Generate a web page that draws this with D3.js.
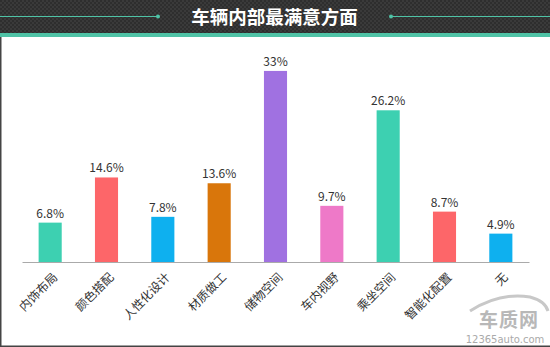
<!DOCTYPE html>
<html><head><meta charset="utf-8">
<script src="https://cdn.jsdelivr.net/npm/d3@7/dist/d3.min.js"></script>
<style>html,body{margin:0;padding:0;background:#fff;}svg{display:block;}</style>
</head><body>
<svg id="c" width="550" height="347"></svg>
<script>
const categories = ["内饰布局","颜色搭配","人性化设计","材质做工","储物空间","车内视野","乘坐空间","智能化配置","无"];
const values = [6.8,14.6,7.8,13.6,33,9.7,26.2,8.7,4.9];
const valueLabels = ["6.8%","14.6%","7.8%","13.6%","33%","9.7%","26.2%","8.7%","4.9%"];
const colors = ["#3dd0b1","#fd6669","#0eb0ef","#d9760b","#a071e1","#ee79c8","#3dd0b1","#fd6669","#0eb0ef"];
const title = "车辆内部最满意方面";

const svg = d3.select("#c");
const W = 550, H = 347;
const font = "'Noto Sans CJK SC','Microsoft YaHei',sans-serif";

// header pattern
const defs = svg.append("defs");
const pat = defs.append("pattern").attr("id","chk").attr("width",4).attr("height",4).attr("patternUnits","userSpaceOnUse");
pat.append("rect").attr("width",4).attr("height",4).attr("fill","#3a3a3a");
pat.append("rect").attr("width",2).attr("height",2).attr("fill","#2e2e2e");
pat.append("rect").attr("x",2).attr("y",2).attr("width",2).attr("height",2).attr("fill","#2e2e2e");

svg.append("rect").attr("x",0).attr("y",0).attr("width",W).attr("height",34).attr("fill","url(#chk)");
svg.append("rect").attr("x",0).attr("y",33).attr("width",W).attr("height",4).attr("fill","#4fc3a6");

// decorative lines
svg.append("line").attr("x1",0).attr("x2",158).attr("y1",16.5).attr("y2",16.5).attr("stroke","#4fc3a6").attr("stroke-width",1);
svg.append("circle").attr("cx",158).attr("cy",16.5).attr("r",2).attr("fill","#4fc3a6");
svg.append("line").attr("x1",391).attr("x2",W).attr("y1",16.5).attr("y2",16.5).attr("stroke","#4fc3a6").attr("stroke-width",1);
svg.append("circle").attr("cx",391).attr("cy",16.5).attr("r",2).attr("fill","#4fc3a6");

svg.append("text").attr("x",274.5).attr("y",24).attr("text-anchor","middle")
  .attr("font-family",font).attr("font-weight","bold").attr("font-size",18.5).attr("fill","#fff").text(title);

// frame
svg.append("rect").attr("x",0).attr("y",37).attr("width",1.5).attr("height",H-37).attr("fill","#444");
svg.append("rect").attr("x",0).attr("y",H-1.5).attr("width",W).attr("height",1.5).attr("fill","#444");

// scales
const x = d3.scaleBand().domain(categories).range([22,529]).paddingInner(0.59).paddingOuter(0.295);
const y = d3.scaleLinear().domain([0,36]).range([262, 262-36*5.79]);

const g = svg.append("g");
g.selectAll("rect.bar").data(values).join("rect").attr("class","bar")
  .attr("x",(d,i)=>x(categories[i])).attr("width",x.bandwidth())
  .attr("y",d=>y(d)).attr("height",d=>y(0)-y(d)).attr("fill",(d,i)=>colors[i]);

g.selectAll("text.val").data(values).join("text").attr("class","val")
  .attr("x",(d,i)=>x(categories[i])+x.bandwidth()/2).attr("y",d=>y(d)-5)
  .attr("text-anchor","middle").attr("font-family",font).attr("font-size",12).attr("fill","#333")
  .text((d,i)=>valueLabels[i]);

// axis
const axis = d3.axisBottom(x).tickSize(0).tickPadding(0);
const ag = svg.append("g").attr("transform","translate(0,262)").call(axis);
ag.select(".domain").attr("stroke","#aaa").attr("stroke-width",1);
ag.selectAll(".tick text").attr("font-family",font).attr("font-size",12).attr("fill","#333")
  .attr("text-anchor","end").attr("dy",0).attr("transform","translate(8,16) rotate(-45)");

// watermark
const wm = svg.append("g");
wm.append("path").attr("d","M470,311 Q500,292 530,297 Q545,301 548,311").attr("fill","none").attr("stroke","#c8c8c8").attr("stroke-width",3);
wm.append("text").attr("x",509).attr("y",327).attr("text-anchor","middle").attr("font-family",font).attr("font-weight","bold")
  .attr("font-size",19).attr("fill","#b8b8b8").attr("letter-spacing",1).text("车质网");
wm.append("text").attr("x",505).attr("y",343).attr("text-anchor","middle").attr("font-family","'DejaVu Sans',sans-serif")
  .attr("font-size",10).attr("fill","#aaa").text("12365auto.com");
</script>
</body></html>
